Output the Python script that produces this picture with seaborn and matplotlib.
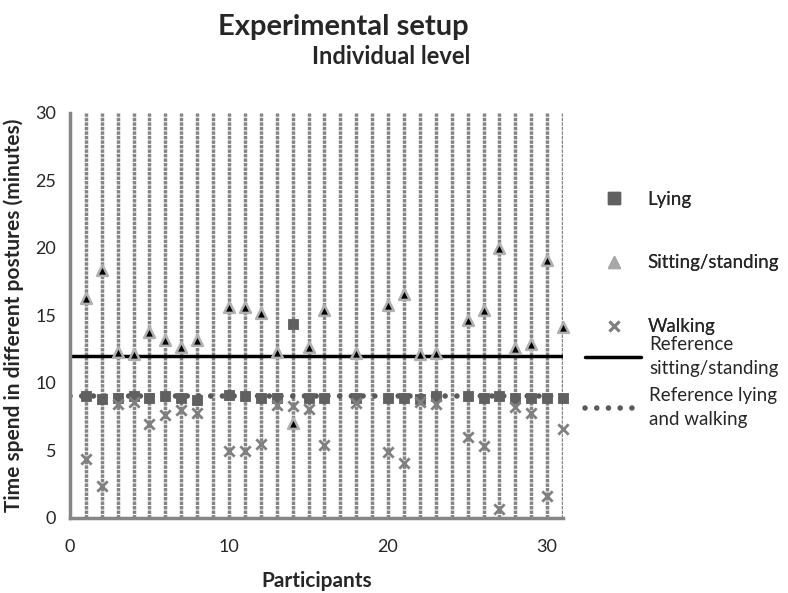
import numpy as np
import pandas as pd
import matplotlib
matplotlib.use("Agg")
import matplotlib.pyplot as plt
from matplotlib.lines import Line2D
import seaborn as sns

# participants 9, 17, 19 and 24 have no data
all_participants = list(range(1, 32))
participants = [1, 2, 3, 4, 5, 6, 7, 8, 10, 11, 12, 13, 14, 15, 16,
                18, 20, 21, 22, 23, 25, 26, 27, 28, 29, 30, 31]
lying = [9.0, 8.8, 8.9, 9.0, 8.9, 9.0, 8.9, 8.75, 9.1, 9.0, 8.9, 8.9, 14.4, 8.9, 8.9,
         8.9, 8.9, 8.9, 8.8, 9.0, 9.0, 8.9, 9.0, 8.9, 8.9, 8.9, 8.9]
sitting = [16.3, 18.4, 12.3, 12.15, 13.75, 13.2, 12.7, 13.2, 15.6, 15.6, 15.2, 12.3, 7.0, 12.7, 15.4,
           12.2, 15.8, 16.6, 12.15, 12.2, 14.7, 15.4, 20.0, 12.6, 12.9, 19.1, 14.15]
walking = [4.4, 2.4, 8.45, 8.6, 6.95, 7.6, 8.0, 7.75, 4.95, 4.95, 5.5, 8.4, 8.3, 8.05, 5.4,
           8.5, 4.9, 4.1, 8.6, 8.45, 6.0, 5.35, 0.7, 8.25, 7.8, 1.65, 6.6]
ref_sitting = 12
ref_lying_walking = 9

df = pd.DataFrame({"Participant": participants, "Lying": lying,
                   "Sitting": sitting, "Walking": walking})

sns.set_style("white")
plt.rcParams["font.family"] = ["Lato", "DejaVu Sans"]

fig = plt.figure(figsize=(7.88, 5.93), dpi=100)
ax = fig.add_axes([0.0888, 0.1265, 0.6257, 0.683])

grey = "#868686"
ax.vlines(all_participants, 0, 30, colors="#858585", linestyles=(0, (1, 0.3)), linewidth=2.5, zorder=1)

ax.axhline(ref_sitting, color="black", linewidth=2.5, zorder=2)
ax.axhline(ref_lying_walking, color="#5a5a5a", linewidth=4, linestyle=(0, (0.01, 2.1)),
           dash_capstyle="round", zorder=2)

sns.scatterplot(data=df, x="Participant", y="Lying", marker="s", s=60, color="#606060",
                edgecolor="#606060", ax=ax, zorder=3, clip_on=False)
sns.scatterplot(data=df, x="Participant", y="Sitting", marker="^", s=60, color="black",
                edgecolor="#b0b0b0", linewidth=1.8, ax=ax, zorder=4, clip_on=False)
sns.scatterplot(data=df, x="Participant", y="Walking", marker="x", s=55, color="#808080",
                linewidth=2, ax=ax, zorder=4, clip_on=False)

ax.set_xlim(0, 31)
ax.set_ylim(0, 30)
ax.set_xticks([0, 10, 20, 30])
ax.set_yticks(range(0, 31, 5))
sns.despine(ax=ax)
for side in ["left", "bottom"]:
    ax.spines[side].set_color(grey)
    ax.spines[side].set_linewidth(2.5)
ax.tick_params(axis="y", direction="out", length=6, width=2, color=grey, labelsize=13, pad=4)
ax.tick_params(axis="x", direction="out", length=7, width=2, color=grey, labelsize=13, pad=8)
ax.set_xlabel("Participants", fontsize=15, fontweight="bold", labelpad=12)
ax.set_ylabel("Time spend in different postures (minutes)", fontsize=15, fontweight="bold", labelpad=8)

fig.text(0.436, 0.954, "Experimental setup", ha="center", va="center", fontsize=21, fontweight="bold")
fig.text(0.496, 0.904, "Individual level", ha="center", va="center", fontsize=17, fontweight="bold")

h1 = [Line2D([], [], linestyle="none", marker="s", markersize=8, color="#606060"),
      Line2D([], [], linestyle="none", marker="^", markersize=8, markerfacecolor="#a8a8a8",
             markeredgecolor="#a8a8a8"),
      Line2D([], [], linestyle="none", marker="x", markersize=7, markeredgewidth=2, color="#808080")]
leg1 = fig.legend(h1, ["Lying", "Sitting/standing", "Walking"], loc="center left",
                  bbox_to_anchor=(0.755, 0.5565), frameon=False, fontsize=13.5,
                  handlelength=2, handletextpad=0.8, labelspacing=2.5, borderpad=0, borderaxespad=0)

h2 = [Line2D([], [], color="black", linewidth=2.5),
      Line2D([], [], color="#5a5a5a", linewidth=4, linestyle=(0, (0.01, 2.1)), dash_capstyle="round")]
leg2 = fig.legend(h2, ["Reference\nsitting/standing", "Reference lying\nand walking"], loc="center left",
                  bbox_to_anchor=(0.742, 0.356), frameon=False, fontsize=13.5,
                  handlelength=3, handletextpad=0.45, labelspacing=0.5, borderpad=0, borderaxespad=0)
for t in leg2.get_texts():
    t.set_linespacing(1.5)
fig.add_artist(leg1)

fig.savefig("out.png", dpi=100)
